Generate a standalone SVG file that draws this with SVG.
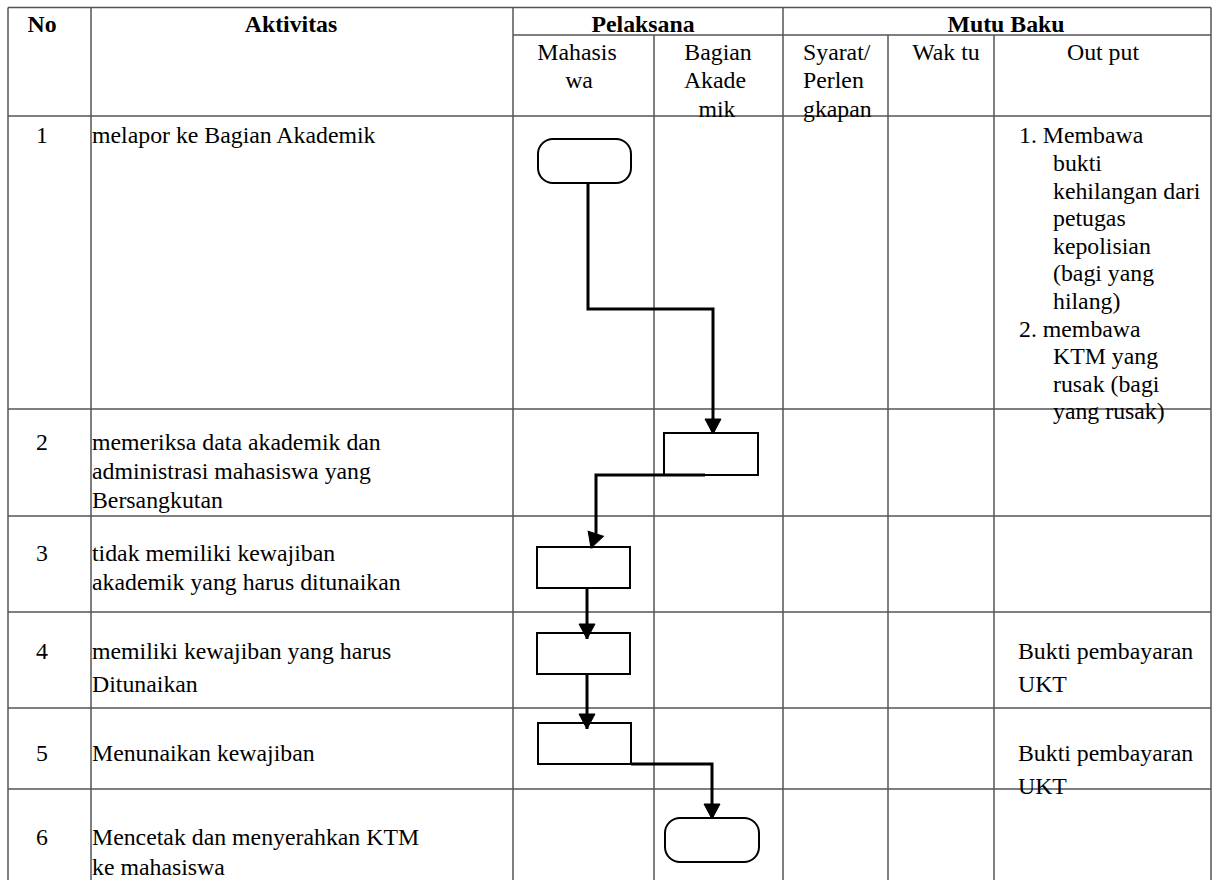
<svg xmlns="http://www.w3.org/2000/svg" width="1212" height="880" viewBox="0 0 1212 880">
<defs>
<style>
.grid{stroke:#555;stroke-width:1.5;fill:none}
text{font-family:"Liberation Serif","Times New Roman",serif;font-size:23.8px;fill:#000}
.b{font-weight:bold}
.c{text-anchor:middle}
.shape{fill:#fff;stroke:#000;stroke-width:2}
.conn{fill:none;stroke:#000;stroke-width:3}
</style>
<marker id="ah" markerUnits="userSpaceOnUse" markerWidth="20" markerHeight="20" refX="16" refY="9" orient="auto" overflow="visible">
<path d="M1,1 L16,9 L1,17 z" fill="#000" stroke="#000" stroke-width="1" stroke-linejoin="miter"/>
</marker>
</defs>
<rect width="1212" height="880" fill="#fff"/>
<g id="grid">
<path class="grid" d="M8,7.5 H1211 M513,35 H1211 M8,116 H1211 M8,409 H1211 M8,516 H1211 M8,612 H1211 M8,708 H1211 M8,789 H1211"/>
<path class="grid" d="M8,7.5 V880 M91,7.5 V880 M513,7.5 V880 M654,35 V880 M783,7.5 V880 M888,35 V880 M994,35 V880 M1211,7.5 V880"/>
</g>
<g id="header" font-family="Liberation Serif, Times New Roman, serif">
<text class="b c" x="42" y="32">No</text>
<text class="b c" x="291" y="32">Aktivitas</text>
<text class="b c" x="643" y="32">Pelaksana</text>
<text class="b c" x="1006" y="32">Mutu Baku</text>
<text class="c" x="577" y="60">Mahasis</text>
<text class="c" x="579" y="88">wa</text>
<text class="c" x="718" y="60">Bagian</text>
<text class="c" x="715" y="88">Akade</text>
<text class="c" x="717" y="117">mik</text>
<text x="803" y="60">Syarat/</text>
<text x="803" y="88">Perlen</text>
<text x="803" y="117">gkapan</text>
<text class="c" x="946" y="60">Wak tu</text>
<text class="c" x="1103" y="60">Out put</text>
</g>
<g id="rows" font-family="Liberation Serif, Times New Roman, serif">
<text class="c" x="42" y="143">1</text>
<text x="92" y="143">melapor ke Bagian Akademik</text>
<text class="c" x="42" y="450">2</text>
<text x="92" y="450">memeriksa data akademik dan</text>
<text x="92" y="479">administrasi mahasiswa yang</text>
<text x="92" y="508">Bersangkutan</text>
<text class="c" x="42" y="561">3</text>
<text x="92" y="561">tidak memiliki kewajiban</text>
<text x="92" y="590">akademik yang harus ditunaikan</text>
<text class="c" x="42" y="659">4</text>
<text x="92" y="659">memiliki kewajiban yang harus</text>
<text x="92" y="692">Ditunaikan</text>
<text class="c" x="42" y="761">5</text>
<text x="92" y="761">Menunaikan kewajiban</text>
<text class="c" x="42" y="845">6</text>
<text x="92" y="845">Mencetak dan menyerahkan KTM</text>
<text x="92" y="875">ke mahasiswa</text>
</g>
<g id="output" font-family="Liberation Serif, Times New Roman, serif">
<text x="1019" y="143.3">1. Membawa</text>
<text x="1053" y="170.9">bukti</text>
<text x="1053" y="198.5">kehilangan dari</text>
<text x="1053" y="226.1">petugas</text>
<text x="1053" y="253.7">kepolisian</text>
<text x="1053" y="281.3">(bagi yang</text>
<text x="1053" y="308.9">hilang)</text>
<text x="1019" y="336.5">2. membawa</text>
<text x="1053" y="364.1">KTM yang</text>
<text x="1053" y="391.7">rusak (bagi</text>
<text x="1053" y="419.3">yang rusak)</text>
<text x="1018" y="659">Bukti pembayaran</text>
<text x="1018" y="692">UKT</text>
<text x="1018" y="761">Bukti pembayaran</text>
<text x="1018" y="794">UKT</text>
</g>
<g id="n1"><rect class="shape" x="538" y="139" width="93" height="44" rx="15" ry="15"/></g>
<g id="n2"><rect class="shape" x="664" y="433" width="94" height="42"/></g>
<g id="n3"><rect class="shape" x="537" y="547" width="93" height="41"/></g>
<g id="n4"><rect class="shape" x="537" y="633" width="93" height="41"/></g>
<g id="n5"><rect class="shape" x="538" y="723" width="93" height="41"/></g>
<g id="n6"><rect class="shape" x="665" y="818" width="94" height="44" rx="15" ry="15"/></g>
<g id="connectors">
<path class="conn" d="M588,183 V309 H713 V434" marker-end="url(#ah)"/>
<path class="conn" d="M705,475 H596 V533 L591,548" marker-end="url(#ah)"/>
<path class="conn" d="M587,588 V639" marker-end="url(#ah)"/>
<path class="conn" d="M587,674 V729" marker-end="url(#ah)"/>
<path class="conn" d="M631,764 H712 V819" marker-end="url(#ah)"/>
</g>
</svg>
